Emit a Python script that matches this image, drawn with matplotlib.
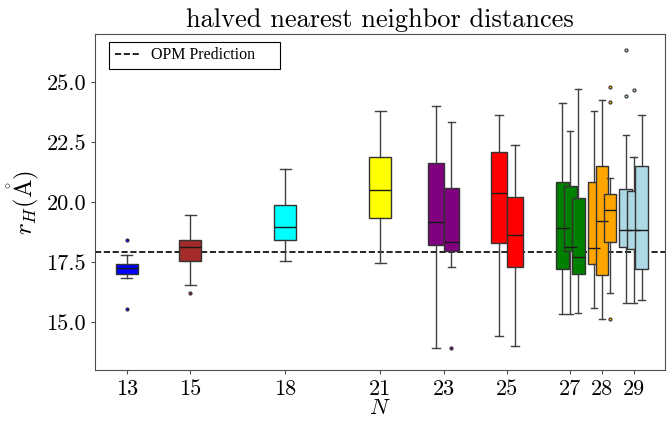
import matplotlib
matplotlib.use("Agg")
from matplotlib import pyplot as plt
from matplotlib.lines import Line2D

plt.rcParams['font.family'] = 'serif'
plt.rcParams['font.serif'] = ['cmr10', 'DejaVu Serif']
plt.rcParams['mathtext.fontset'] = 'cm'
plt.rcParams['axes.formatter.use_mathtext'] = True

# one entry per box
box_n = [13, 15, 18, 21, 23, 23, 25, 25, 27, 27, 27, 28, 28, 28, 29, 29, 29]
whislo = [16.82, 16.55, 17.54, 17.44, 13.92, 17.28, 14.42, 14.00, 15.35, 15.35, 15.37,
          15.58, 15.11, 16.22, 15.78, 15.78, 15.94]
q1 = [17.01, 17.54, 18.42, 19.32, 18.19, 17.96, 18.29, 17.28, 17.22, 17.94, 17.00,
      17.42, 16.96, 18.32, 18.12, 18.03, 17.21]
med = [17.26, 18.12, 18.96, 20.50, 19.15, 18.33, 20.36, 18.62, 18.92, 18.11, 17.69,
       18.08, 19.19, 19.67, 18.83, 18.83, 18.83]
q3 = [17.43, 18.40, 19.86, 21.87, 21.61, 20.60, 22.07, 20.22, 20.82, 20.65, 20.15,
      20.82, 21.51, 20.32, 20.54, 20.47, 21.48]
whishi = [17.78, 19.46, 21.39, 23.80, 24.01, 23.32, 23.61, 22.39, 24.10, 22.96, 24.69,
          23.80, 24.25, 20.98, 22.79, 21.87, 23.61]
fliers = [[18.40, 15.54], [16.22], [], [], [], [13.93], [], [], [], [], [],
          [], [], [24.80, 24.15, 15.11], [26.33, 24.40], [24.68], []]

group_colors = {13: "blue", 15: "brown", 18: "cyan", 21: "yellow", 23: "purple",
                25: "red", 27: "green", 28: "orange", 29: "lightblue"}
opm_prediction = 17.93
xticks = [13, 15, 18, 21, 23, 25, 27, 28, 29]

fig = plt.figure(figsize=(6.7, 4.23), dpi=100)
ax = fig.add_axes([0.142, 0.125, 0.851, 0.795])

ax.axhline(opm_prediction, color="black", ls="--", lw=1.2, zorder=1)

offsets = {1: [0.0], 2: [-0.25, 0.25], 3: [-0.25, 0.0, 0.25]}
widths = {1: 0.7, 2: 0.5, 3: 0.4}
seen = {}
for i, n in enumerate(box_n):
    count = box_n.count(n)
    k = seen.get(n, 0)
    seen[n] = k + 1
    stats = [dict(whislo=whislo[i], q1=q1[i], med=med[i], q3=q3[i],
                  whishi=whishi[i], fliers=fliers[i])]
    c = group_colors[n]
    ax.bxp(stats, positions=[n + offsets[count][k]], widths=widths[count],
           patch_artist=True, manage_ticks=False, zorder=2 + i * 0.01,
           boxprops=dict(facecolor=c, edgecolor="0.2", lw=1.0),
           medianprops=dict(color="0.1", lw=1.0),
           whiskerprops=dict(color="0.25", lw=1.0),
           capprops=dict(color="0.25", lw=1.0),
           flierprops=dict(marker="o", markersize=2.2, markerfacecolor=c,
                           markeredgecolor="0.2", markeredgewidth=0.8))

ax.set_xlim(12, 30)
ax.set_ylim(13, 27)
ax.set_xticks(xticks)
ax.set_xticklabels([str(t) for t in xticks])
ax.set_yticks([15.0, 17.5, 20.0, 22.5, 25.0])
ax.set_yticklabels(["15.0", "17.5", "20.0", "22.5", "25.0"])
ax.tick_params(axis='both', labelsize=16, color="0.3", length=3)
for s in ax.spines.values():
    s.set_color("0.3")

ax.set_title("halved nearest neighbor distances", fontsize=19, pad=5)
ax.set_xlabel("$N$", fontsize=16, labelpad=0)
ax.set_ylabel(r"$r_H(\mathring{\mathrm{A}})$", fontsize=18, labelpad=4)

handle = Line2D([], [], color="black", ls="--", lw=1.2)
leg = ax.legend([handle], ["OPM Prediction"], loc="upper left",
                bbox_to_anchor=(0.0246, 0.5, 0.300, 0.477), mode="expand",
                borderaxespad=0,
                prop={'family': 'Liberation Serif', 'size': 11.5}, fancybox=False,
                edgecolor="black", framealpha=1,
                handlelength=1.5, handletextpad=0.8, borderpad=0.35)
leg.get_frame().set_linewidth(0.8)

fig.savefig("out.png", dpi=100)
